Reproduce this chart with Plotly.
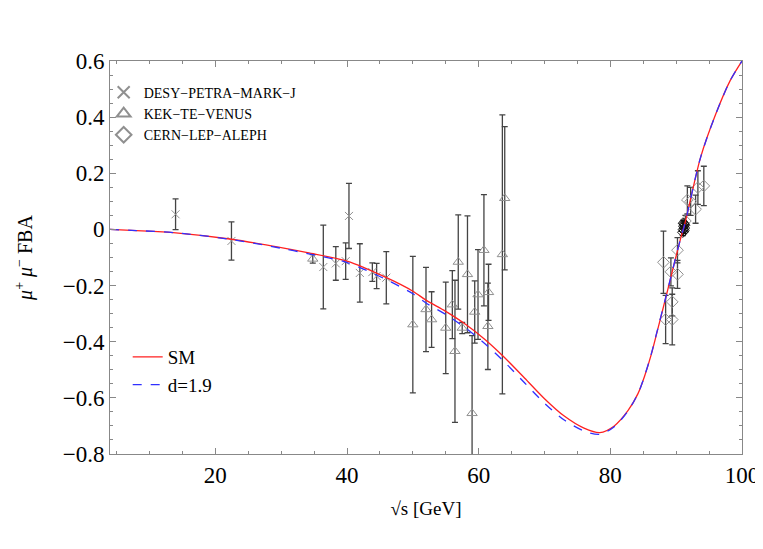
import plotly.graph_objects as go

# ---------------- data ----------------
# theory curves
curve_x = [4, 8, 14, 22.5, 30, 34, 40, 46, 50, 52, 55, 58, 61, 64, 67, 70, 73, 76, 78.4,
           80.6, 82.7, 84.2, 85.2, 86.2, 87.2, 88.4, 90.7, 91.3, 93.7, 96, 98.2, 100]
sm_y = [0.0, -0.004, -0.012, -0.035, -0.065, -0.083, -0.113, -0.172, -0.22, -0.252, -0.292,
        -0.338, -0.393, -0.458, -0.53, -0.603, -0.665, -0.708, -0.724,
        -0.70, -0.645, -0.585, -0.523, -0.447, -0.356, -0.245, -0.03, 0.018, 0.256, 0.41, 0.53, 0.6]
d19_y = [0.0, -0.004, -0.012, -0.036, -0.067, -0.086, -0.118, -0.179, -0.229, -0.262, -0.303,
         -0.351, -0.408, -0.474, -0.547, -0.619, -0.679, -0.718, -0.73,
         -0.703, -0.646, -0.585, -0.522, -0.445, -0.354, -0.244, -0.03, 0.018, 0.256, 0.41, 0.53, 0.6]

# DESY-PETRA-MARK-J (crosses)
desy_x = [13.96, 22.45, 36.4, 38.3, 39.8, 40.3, 41.95, 43.85, 44.5, 45.97]
desy_y = [0.054, -0.041, -0.134, -0.121, -0.113, 0.048, -0.155, -0.152, -0.166, -0.172]
desy_e = [0.055, 0.068, 0.149, 0.06, 0.065, 0.116, 0.104, 0.033, 0.045, 0.093]

# KEK-TE-VENUS (triangles)
kek_x = [34.8, 50.0, 52.0, 52.85, 55.0, 56.0, 56.4, 56.9, 57.5, 58.3, 59.0, 59.4, 59.9,
         60.8, 61.4, 61.5, 63.6, 63.96]
kek_y = [-0.105, -0.339, -0.285, -0.321, -0.351, -0.268, -0.434, -0.116, -0.351, -0.16,
         -0.655, -0.294, -0.232, -0.074, -0.345, -0.224, -0.089, 0.111]
kek_e = [0.015, 0.243, 0.15, 0.099, 0.163, 0.121, 0.253, 0.168, 0.02, 0.208,
         0.277, 0.111, 0.16, 0.198, 0.154, 0.1, 0.497, 0.255]

# CERN-LEP-ALEPH (diamonds)
lep_x = [88.07, 88.4, 89.4, 89.4, 89.2, 90.2, 90.2, 91.4, 91.7, 92.2, 92.95, 93.3, 94.2]
lep_y = [-0.117, -0.321, -0.321, -0.258, -0.151, -0.16, -0.074, 0.03, 0.105, 0.1, 0.072, 0.149, 0.155]
lep_e = [0.111, 0.086, 0.09, 0.05, 0.05, 0.05, 0.045, 0.02, 0.05, 0.05, 0.05, 0.06, 0.07]

# Z-pole cluster (dense ALEPH points)
z_x = [91.0, 91.1, 91.15, 91.2, 91.25, 91.3, 91.2, 91.1]
z_y = [-0.01, 0.0, 0.012, 0.02, 0.005, 0.015, -0.005, 0.022]
z_e = [0.012, 0.01, 0.01, 0.01, 0.01, 0.012, 0.01, 0.01]

FONT = "Liberation Serif, Times New Roman, Times, DejaVu Serif, serif"
GRAY = "#909090"
ERR = "#444444"

fig = go.Figure()

def pts(x, y, e, sym, size, name, color=GRAY, showleg=True, errc=ERR):
    fig.add_trace(go.Scatter(
        x=x, y=y, mode="markers", name=name, showlegend=showleg, legend="legend",
        marker=dict(symbol=sym, size=size, color=color, line=dict(color=color, width=1)),
        error_y=dict(type="data", array=e, visible=True, color=errc, thickness=1.3, width=3),
    ))

pts(desy_x, desy_y, desy_e, "x-thin-open", 8, "DESY\u2212PETRA\u2212MARK\u2212J")
pts(kek_x, kek_y, kek_e, "triangle-up-open", 9, "KEK\u2212TE\u2212VENUS")
pts(lep_x, lep_y, lep_e, "diamond-open", 9, "CERN\u2212LEP\u2212ALEPH")
pts(z_x, z_y, z_e, "diamond-open", 8, "Z", color="#111111", showleg=False, errc="#111111")

fig.add_trace(go.Scatter(x=curve_x, y=sm_y, mode="lines", name="SM", legend="legend2",
                         line=dict(color="#ff2020", width=1.3, shape="spline", smoothing=0.8)))
fig.add_trace(go.Scatter(x=curve_x, y=d19_y, mode="lines", name="d=1.9", legend="legend2",
                         line=dict(color="#3030ff", width=1.3, dash="dash", shape="spline",
                                   smoothing=0.8)))

axis_common = dict(
    showgrid=False, zeroline=False, showline=True, linecolor="#888888", linewidth=1,
    mirror="allticks", ticks="inside", ticklen=6, tickcolor="#888888",
    tickfont=dict(family=FONT, size=23, color="black"),
)
fig.update_xaxes(range=[4, 100], tickvals=[20, 40, 60, 80, 100],
                 minor=dict(ticks="inside", ticklen=3, tickcolor="#888888", dtick=5, tick0=0),
                 title=dict(text="\u221As [GeV]", font=dict(family=FONT, size=19, color="black")),
                 **axis_common)
fig.update_yaxes(range=[-0.8, 0.6], tickvals=[-0.8, -0.6, -0.4, -0.2, 0, 0.2, 0.4, 0.6],
                 ticktext=["\u22120.8", "\u22120.6", "\u22120.4", "\u22120.2", "0", "0.2", "0.4", "0.6"],
                 minor=dict(ticks="inside", ticklen=3, tickcolor="#888888", dtick=0.05, tick0=0),
                 automargin=True,
                 title=dict(text="<i>\u03bc</i><sup>+</sup> <i>\u03bc</i><sup>\u2212</sup> FBA",
                            font=dict(family=FONT, size=20, color="black"), standoff=24),
                 **axis_common)

fig.update_layout(
    width=763, height=549,
    margin=dict(l=102, r=25, t=53, b=103),
    plot_bgcolor="white", paper_bgcolor="white",
    font=dict(family=FONT, color="black"),
    legend=dict(x=-0.01, y=0.96, xanchor="left", yanchor="top", bgcolor="rgba(0,0,0,0)",
                font=dict(family=FONT, size=14, color="black"), tracegroupgap=0,
                itemsizing="constant"),
    legend2=dict(x=0.028, y=0.295, xanchor="left", yanchor="top", bgcolor="rgba(0,0,0,0)",
                 font=dict(family=FONT, size=19, color="black")),
)

fig.write_html("out.html")
